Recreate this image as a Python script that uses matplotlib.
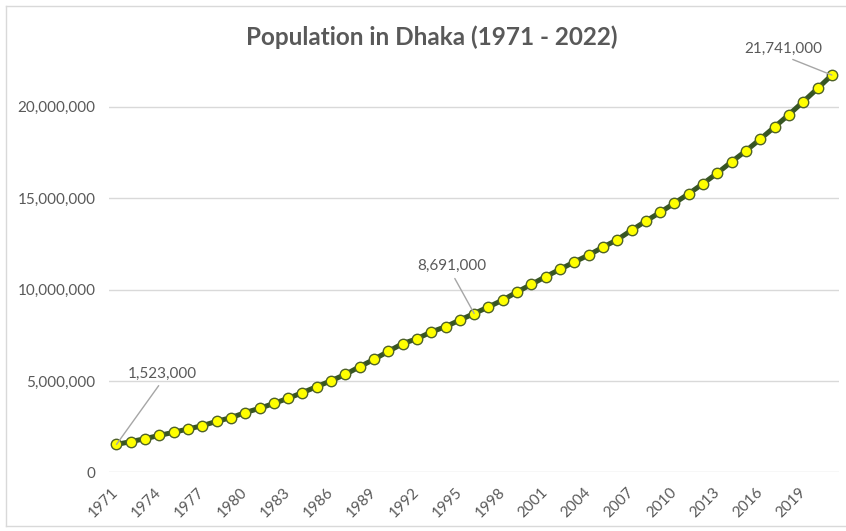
import matplotlib
matplotlib.use("Agg")
import matplotlib.pyplot as plt
from matplotlib.ticker import FuncFormatter
from matplotlib.lines import Line2D

# Dhaka population
years = list(range(1971, 2022))
population = [1523000, 1680000, 1840000, 2020000, 2190000, 2370000, 2550000, 2790000,
              2990000, 3270000, 3500000, 3770000, 4050000, 4360000, 4690000, 5010000,
              5360000, 5780000, 6180000, 6621000, 7040000, 7310000, 7680000, 7970000,
              8332000, 8691000, 9050000, 9430000, 9870000, 10285000, 10710000, 11110000,
              11510000, 11890000, 12320000, 12730000, 13250000, 13750000, 14230000, 14731000,
              15250000, 15800000, 16380000, 17000000, 17598000, 18240000, 18900000, 19578000,
              20283000, 21006000, 21741000]
tick_years = list(range(1971, 2022, 3))
labelled_years = [1971, 1996, 2021]
label_offsets = [(33, 51), (-16, 34), (-35, 19)]  # points

title = "Population in Dhaka (1971 - 2022)"
grey = "#595959"

plt.rcParams["font.family"] = ["Lato", "DejaVu Sans"]

W, H = 846, 531
fig = plt.figure(figsize=(W / 100, H / 100), dpi=100)
ax = fig.add_axes([109.3 / W, (H - 472.3) / H, (839 - 109.3) / W, (472.3 - 61.2) / H])

ax.plot(years, population, color="#375623", lw=3.6, marker="o", markersize=7.5,
        markerfacecolor="#ffff00", markeredgecolor="#4f6228", markeredgewidth=1, zorder=3)

ax.set_xlim(years[0] - 0.5, years[-1] + 0.5)
ax.set_ylim(0, 22500000)
ax.set_yticks([0, 5000000, 10000000, 15000000, 20000000])
ax.yaxis.set_major_formatter(FuncFormatter(lambda v, p: f"{int(v):,}"))
ax.set_xticks(tick_years)
ax.set_xticklabels([str(y) for y in tick_years], rotation=45, ha="right",
                   rotation_mode="anchor", va="center")
ax.tick_params(axis="both", length=0, labelsize=11, labelcolor=grey)
ax.tick_params(axis="y", pad=10)
ax.tick_params(axis="x", pad=13)
ax.grid(axis="y", color="#d9d9d9", lw=1)
ax.set_axisbelow(True)
for s in ax.spines.values():
    s.set_visible(False)

for yr, off in zip(labelled_years, label_offsets):
    val = population[years.index(yr)]
    ax.annotate(f"{val:,}", xy=(yr, val), xytext=off, textcoords="offset points",
                ha="center", va="center", fontsize=11, color=grey,
                arrowprops=dict(arrowstyle="-", color="#a6a6a6", lw=1,
                                shrinkA=2, shrinkB=0, relpos=(0.5, 0)))

fig.text(432 / W, 1 - 37 / H, title, ha="center", va="center", fontsize=17.5,
         fontweight="bold", color=grey)

# chart border
border = "#d9d9d9"
fig.add_artist(Line2D([6 / W, 6 / W], [1 - 6 / H, 1 - 526 / H], color=border, lw=1))
fig.add_artist(Line2D([6 / W, 1], [1 - 6 / H, 1 - 6 / H], color=border, lw=1))
fig.add_artist(Line2D([6 / W, 1], [1 - 526 / H, 1 - 526 / H], color=border, lw=1))

fig.savefig("out.png", dpi=100)
